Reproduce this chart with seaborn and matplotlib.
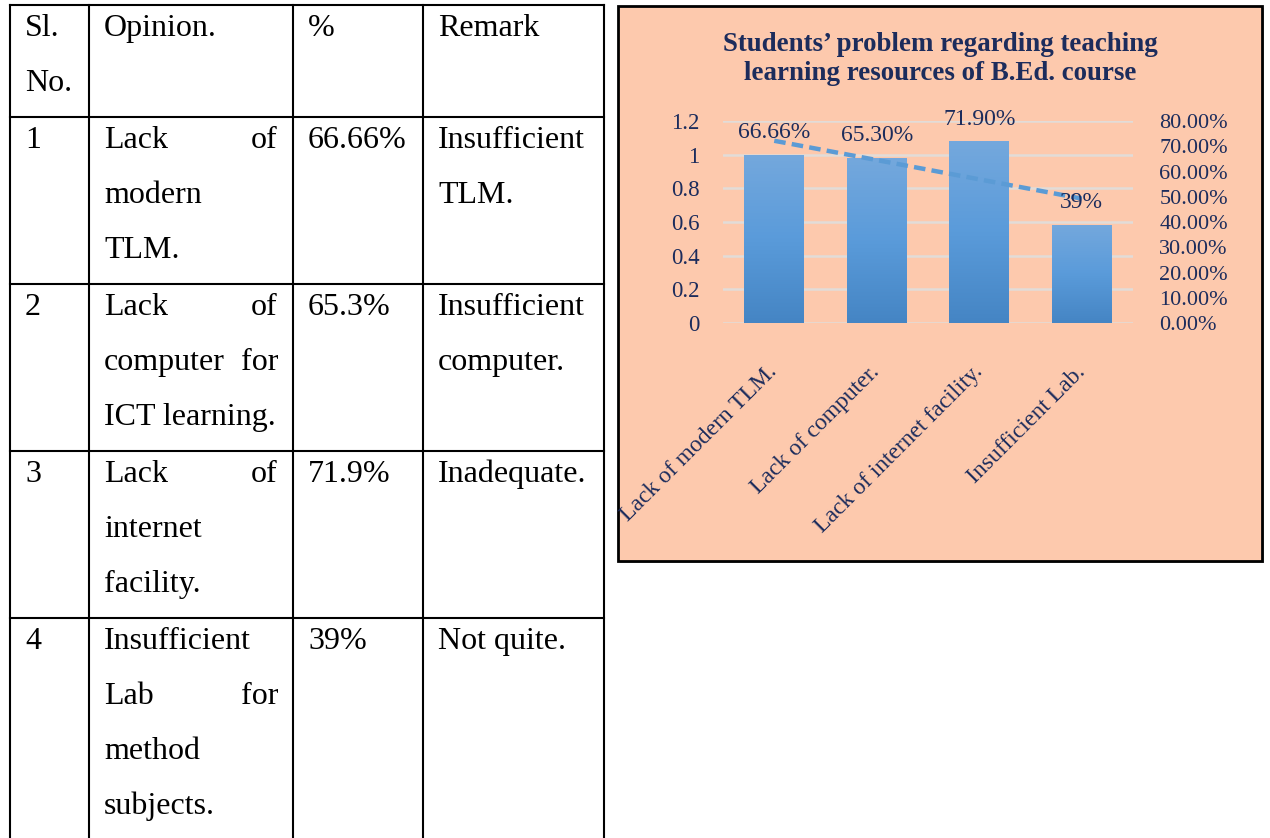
import numpy as np
import matplotlib
matplotlib.use("Agg")
import matplotlib.pyplot as plt
from matplotlib.patches import Rectangle
from matplotlib.colors import to_rgb
import seaborn as sns
import pandas as pd

# ---------------- data ----------------
categories = ["Lack of modern TLM.", "Lack of computer.",
              "Lack of internet facility.", "Insufficient Lab."]
percent_values = [0.6666, 0.653, 0.719, 0.39]
bar_labels = ["66.66%", "65.30%", "71.90%", "39%"]
left_ticks = [0, 0.2, 0.4, 0.6, 0.8, 1.0, 1.2]
right_ticks = [0.0, 0.1, 0.2, 0.3, 0.4, 0.5, 0.6, 0.7, 0.8]
chart_title = "Students\u2019 problem regarding teaching\nlearning resources of B.Ed. course"

table_header = [["Sl.", "No."], ["Opinion."], ["%"], ["Remark"]]
table_sl = ["1", "2", "3", "4"]
table_opinion = [["Lack of", "modern", "TLM."],
                 ["Lack of", "computer for", "ICT learning."],
                 ["Lack of", "internet", "facility."],
                 ["Insufficient", "Lab for", "method", "subjects."]]
table_pct = ["66.66%", "65.3%", "71.9%", "39%"]
table_remark = [["Insufficient", "TLM."], ["Insufficient", "computer."],
                ["Inadequate."], ["Not quite."]]

# ---------------- style ----------------
sns.set_theme(style="white")
plt.rcParams['font.family'] = ['Liberation Serif', 'DejaVu Serif']
NAVY = "#1C2C5C"
PEACH = "#FDC9AD"
W, H = 1270, 838
fig = plt.figure(figsize=(W / 100, H / 100), dpi=100)
fig.patch.set_facecolor("white")

# ---------------- table (pixel coordinate overlay) ----------------
tab = fig.add_axes([0, 0, 1, 1], zorder=-2)
tab.set_xlim(0, W)
tab.set_ylim(H, 0)
tab.axis("off")
col_edges = [10, 89, 293, 423, 604]
pad = 15
line_h = 55
tfs = 23
lw_tab = 1.5

rows = [table_header] + [[[s], op, [p], rm] for s, op, p, rm in
                         zip(table_sl, table_opinion, table_pct, table_remark)]
top = 5
row_tops = []
for r in rows:
    n = max(len(c) for c in r)
    row_tops.append(top)
    for ci, cell in enumerate(r):
        x_left = col_edges[ci] + pad
        x_right = col_edges[ci + 1] - pad
        for li, txt in enumerate(cell):
            yb = top + 31 + li * line_h
            words = txt.split(" ")
            justify = (ci == 1 and len(words) > 1 and li < len(cell) - 1)
            if justify:
                tab.text(x_left, yb, " ".join(words[:-1]), ha="left", va="baseline",
                         fontsize=tfs, color="black")
                tab.text(x_right, yb, words[-1], ha="right", va="baseline",
                         fontsize=tfs, color="black")
            else:
                tab.text(x_left, yb, txt, ha="left", va="baseline",
                         fontsize=tfs, color="black")
    top += n * line_h + 2
for yt in row_tops:
    tab.plot([col_edges[0], col_edges[-1]], [yt, yt], color="black", lw=lw_tab,
             solid_capstyle="projecting")
for xe in col_edges:
    tab.plot([xe, xe], [row_tops[0], H + 5], color="black", lw=lw_tab,
             solid_capstyle="projecting")

# ---------------- chart box ----------------
bx0, by0, bx1, by1 = 618, 6, 1262, 561
shadow = Rectangle(((bx0 + 2) / W, 1 - (by1 + 2) / H), (bx1 - bx0) / W, (by1 - by0) / H,
                   transform=fig.transFigure, facecolor="#B0B0B0", edgecolor="none",
                   zorder=-1)
box = Rectangle((bx0 / W, 1 - by1 / H), (bx1 - bx0) / W, (by1 - by0) / H,
                transform=fig.transFigure, facecolor=PEACH, edgecolor="black",
                linewidth=2.0, zorder=-0.5)
fig.patches.extend([shadow, box])

fig.text(940 / W, 1 - 59 / H, chart_title, ha="center", va="center",
         fontsize=19.4, fontweight="bold", color=NAVY, linespacing=1.2)

# ---------------- axes ----------------
ax_l, ax_r, ax_t, ax_b = 723, 1133, 121, 323
ax = fig.add_axes([ax_l / W, 1 - ax_b / H, (ax_r - ax_l) / W, (ax_b - ax_t) / H], zorder=1)
ax.patch.set_visible(False)
ax2 = ax.twinx()
ax2.patch.set_visible(False)

df = pd.DataFrame({"category": categories, "value": percent_values})
sns.barplot(data=df, x="category", y="value", ax=ax2, width=0.585,
            color="#5B9BD5", saturation=1, errorbar=None, zorder=2)

# gradient fill for bars
top_c = np.array(to_rgb("#74A8DD"))
mid_c = np.array(to_rgb("#5A9BDA"))
bot_c = np.array(to_rgb("#4585C4"))
t = np.linspace(0, 1, 100)[:, None]
grad = np.where(t < 0.5, top_c + (mid_c - top_c) * (t / 0.5),
                mid_c + (bot_c - mid_c) * ((t - 0.5) / 0.5))
grad = grad[:, None, :]
for p in ax2.patches:
    x0, y0 = p.get_x(), p.get_y()
    w, h = p.get_width(), p.get_height()
    p.set_edgecolor("none")
    im = ax2.imshow(grad, extent=[x0, x0 + w, y0, y0 + h], origin="upper",
                    aspect="auto", zorder=2.5, interpolation="bilinear")
    im.set_clip_path(p)

# linear trendline (least squares over the series)
xs = np.arange(len(percent_values))
coef = np.polyfit(xs, percent_values, 1)
ax2.plot(xs, np.polyval(coef, xs), color="#5B9BD5", lw=3.2,
         linestyle=(0, (2.6, 1.4)), zorder=3)

# data labels
for i, (v, lab) in enumerate(zip(percent_values, bar_labels)):
    ax2.annotate(lab, (i, v), xytext=(0, 16), textcoords="offset points",
                 ha="center", va="center", fontsize=17, color=NAVY, zorder=4)

ax2.set_xlim(-0.5, len(categories) - 0.5)
ax2.set_ylim(0, 0.8)
ax.set_xlim(-0.5, len(categories) - 0.5)
ax.set_ylim(0, 1.2)

ax.set_yticks(left_ticks)
ax.set_yticklabels([f"{v:g}" for v in left_ticks], fontsize=16.5, color=NAVY)
ax2.set_yticks(right_ticks)
ax2.set_yticklabels([f"{v * 100:.2f}%" for v in right_ticks], fontsize=16, color=NAVY)
ax.grid(axis="y", color="#E2DCD8", lw=1.8)
ax.grid(axis="x", visible=False)
ax2.grid(False)

ax.set_xticks(xs)
ax.set_xticklabels(categories, rotation=45, ha="right", va="center",
                   rotation_mode="anchor", fontsize=17, color=NAVY)
ax.tick_params(axis="x", labelbottom=True, length=0, pad=33)
ax.tick_params(axis="y", length=0, pad=17)
ax2.tick_params(axis="y", length=0, pad=19)
ax2.set_xlabel("")
ax2.set_ylabel("")
ax.set_xlabel("")
for a in (ax, ax2):
    for s in a.spines.values():
        s.set_visible(False)

fig.savefig("out.png", dpi=100)
